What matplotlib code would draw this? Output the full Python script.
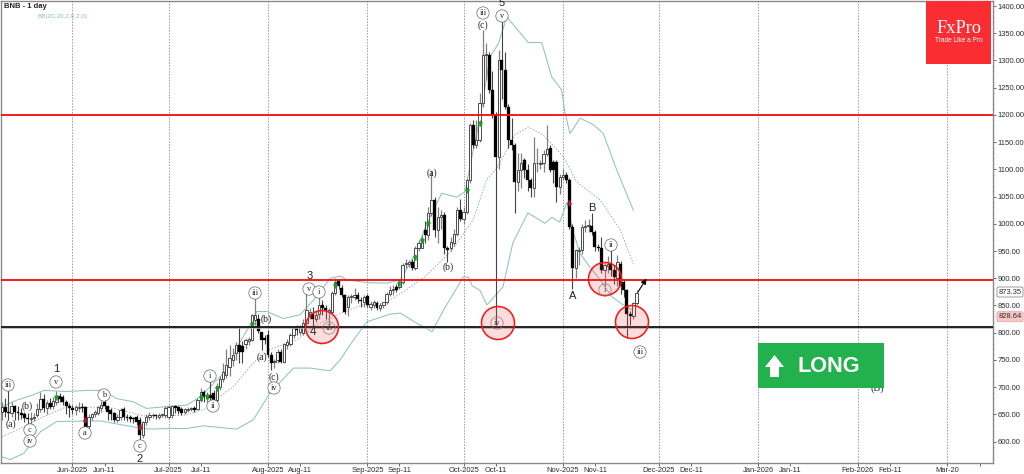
import matplotlib
matplotlib.use("Agg")
import matplotlib.pyplot as plt
from matplotlib.patches import Circle, Rectangle, Polygon
from matplotlib.path import Path

W, H = 1024, 474
first_day = -22  # days counted from 2025-06-01

opens = [655,664,655,652,665,655,652,650,644,641,644,648,660,678,662,670,666,672,684,682,672,665,
 662,658,662,664,664,628,646,650,652,662,672,666,658,652,640,645,660,645,645,643,645,640,612,636,
 646,648,648,646,648,648,646,648,665,664,660,654,658,660,662,
 660,676,692,680,686,690,676,700,715,722,737,750,762,777,775,779,785,
 787,823,826,802,790,796,759,746,750,765,747,778,780,796,808,802,799,817,832,835,826,835,851,845,
 838,838,873,895,883,869,848,866,866,870,860,856,868,848,850,854,845,850,857,872,878,884,884,894,
 926,926,930,918,955,955,988,979,1019,1044,988,1013,1017,955,955,965,982,1026,1008,1022,
 1080,1181,1145,1154,1221,1310,1310,1246,1200,1123,1301,1282,1215,1154,1145,1077,1099,1117,1099,1081,
 1065,1111,1110,1111,1129,1139,1114,1114,1068,1086,1090,
 1080,995,919,950,952,995,996,996,985,957,955,915,922,926,915,900,927,894,878,834,830,854]
highs = [672,680,698,672,668,665,662,655,652,655,652,670,692,688,676,680,682,693,690,686,676,670,
 668,668,672,670,666,650,652,658,666,675,680,668,662,655,650,662,664,650,648,646,648,645,638,650,
 655,652,651,652,653,665,668,668,667,666,664,662,663,664,665,
 680,698,695,692,722,694,708,720,745,770,778,772,783,811,785,790,792,
 835,866,835,802,795,805,765,752,770,770,782,788,800,812,815,815,825,878,846,848,840,866,860,850,
 845,876,900,898,888,872,870,872,882,875,866,870,872,858,860,858,855,855,875,885,888,890,899,928,
 935,933,935,960,970,980,1005,1030,1099,1050,1030,1025,1022,960,975,990,1030,1045,1030,1085,
 1185,1190,1190,1240,1356,1332,1315,1280,1205,1320,1383,1315,1220,1195,1148,1130,1130,1120,1110,1085,
 1160,1140,1118,1135,1181,1145,1118,1118,1092,1100,1095,
 1085,1000,953,958,1000,1007,1008,1020,988,962,975,928,940,952,925,942,932,898,880,840,856,878]
lows = [640,645,640,645,640,640,642,636,630,632,638,645,655,655,650,660,660,668,672,668,650,645,
 650,648,655,655,622,622,640,645,648,655,660,640,640,636,636,640,640,638,636,635,630,600,606,630,
 640,644,642,642,645,644,642,644,652,650,648,650,654,656,654,
 658,672,672,672,672,660,672,695,710,716,720,738,750,745,744,770,778,
 785,815,800,768,780,755,731,735,745,745,745,770,775,790,795,795,795,812,825,808,820,825,832,825,
 812,835,870,880,865,835,830,855,860,855,848,848,848,842,845,842,840,845,853,868,870,875,880,890,
 918,920,915,915,950,955,965,970,1015,975,965,990,945,930,950,960,978,1005,1000,1018,
 1075,1140,1140,1150,1215,1265,1240,1195,815,1100,1230,1210,1140,1135,1019,1060,1065,1085,1060,1050,
 1050,1095,1100,1095,1125,1095,1075,1040,1055,1080,1075,
 990,880,900,925,945,985,985,980,950,950,910,885,910,905,890,885,872,865,790,814,826,850]
closes = [664,655,652,665,655,652,648,644,641,644,646,660,678,662,670,664,674,682,678,672,665,662,
 658,664,664,662,626,646,650,654,664,668,666,654,650,640,645,658,645,644,641,641,636,612,636,645,
 648,648,647,649,650,662,664,665,662,656,652,660,660,661,658,
 676,692,682,686,680,676,703,715,728,740,753,759,777,765,764,787,788,
 832,832,804,787,787,759,744,748,765,747,780,783,796,808,805,808,817,842,838,826,832,851,845,839,
 842,873,893,885,869,838,866,868,869,862,858,866,851,852,856,845,850,856,872,878,881,878,894,924,
 928,929,918,955,964,972,979,1019,1044,988,1013,1016,955,952,967,982,1026,1008,1022,1080,
 1181,1145,1154,1221,1310,1312,1246,1200,1123,1301,1282,1215,1154,1145,1077,1099,1111,1099,1081,1065,
 1111,1112,1112,1129,1138,1099,1099,1068,1086,1090,1080,
 995,919,952,952,995,996,998,985,957,955,915,924,926,915,903,930,885,878,834,830,854,873.35]
days = list(range(first_day, first_day + len(closes)))

upper_days = [-22,-17.4,-12.2,-9,-1.8,4.4,9.6,13.8,19,23,29,35.6,39.8,44,48,52,55.4,57.5,60.6,65.8,71,75.2,80.4,83.5,85.6,91.9,98,102.3,106.5,110.6,112.6,115.2,119.9,122.5,124,127.2,130.3,132.9,135.5,142.2,146.4,149.5,152.6,153.7,155.2,158.4,162.5,165.6,169.8,175]
upper_vals = [664,676,686,694,692,694,694,679,673,661,664,667,682,707,731,780,814,839,839,826,833,860,900,904,897,892,891,897,940,1001,1025,1056,1049,1059,1105,1197,1307,1331,1380,1333,1333,1270,1246,1203,1166,1194,1182,1166,1099,1025]
mid_days = [-22,-16.4,-9,-1.8,4.4,10.7,16.9,23.2,29.4,35.6,41.9,46,50.2,56.5,61.7,70,76,85,91.9,97,104,110,118,125,129.2,132.4,138,142.2,146.9,153.2,157.3,164.6,170.9,175]
mid_vals = [609,624,646,664,663,664,655,646,647,649,661,683,701,745,770,787,814,839,854,853,878,903,949,1007,1081,1102,1163,1178,1163,1123,1077,1044,989,926]
lower_days = [-22,-19.5,-15.3,-10,-4.9,8.6,19,24.2,29.4,35.6,40.8,51.2,56.4,61.6,68.9,74.1,80.4,83.5,87.7,91.9,99,102.3,107.5,112.2,115.8,122,123.6,124.7,127.1,129.3,134.3,137.4,142.1,147.4,149.6,152,154.3,155.8,158.3,161.4,164.6,168.3,171.8,175.8]
lower_vals = [572,567,578,618,637,638,627,623,624,624,629,623,640,689,735,735,730,750,787,820,834,836,817,802,842,903,902,886,878,851,884,965,1020,1001,1012,1003,1040,994,946,921,897,866,851,838]

buy_days = [-5,40,42,45,56,82,102,107,109,111,123,127]
buy_vals = [681,681,684,699,816,888,891,939,970,1001,1062,1185]
sell_days = [4,21,155]
sell_vals = [640,627,1038]

red_levels = [1200, 897]
black_levels = [811]

month_days = [0,30,61,92,122,153,183,214,245,273]
month_labels = ["Jun-2025","Jul-2025","Aug-2025","Sep-2025","Oct-2025","Nov-2025","Dec-2025","Jan-2026","Feb-2026","Mar-20"]
mid_month_days = [10,40,71,102,132,163,193,224,255,283]
mid_month_labels = ["Jun-11","Jul-11","Aug-11","Sep-11","Oct-11","Nov-11","Dec-11","Jan-11","Feb-11",""]

price_ticks = list(range(600, 1401, 50))
minor_ticks = list(range(570, 1410, 10))

plain_labels = [("1",56,369),("2",140,459),("3",310,276),("5",502,3),("B",592,208),("A",573,296)]
paren_labels = [("(a)",11,424),("(b)",27,406),("(b)",266,319),("(a)",262,357),("(c)",274,377),("(b)",448,267),("(a)",432,173),("(c)",483,25)]
ring_labels = [("iii",8,385),("v",56,382),("c",30,430),("iv",30,441),("a",85,433),("b",104,395),("c",140,446),
               ("i",210,376),("ii",213,406),("iii",255,293),("iv",274,388),("v",309,289),("i",319,292),
               ("iii",483,13),("v",502,16),("ii",611,245),("iii",640,352)]
faint_rings = [("iii",329,328),("iv",497,323),("i",605,290)]
zones = [(322,327),(498,323),(605,279),(632,322)]

fig = plt.figure(figsize=(W/100, H/100), dpi=100, facecolor="white")
ax = fig.add_axes([1/W, (H-463)/H, 992/W, 462/H])
ax.set_xlim((1-72.5)/3.205, (993-72.5)/3.205)
ax.set_ylim(560.7, 1409.2)
ax.yaxis.tick_right()
ax.set_yticks(price_ticks)
ax.set_yticklabels([f"{p}.00" for p in price_ticks])
ax.set_yticks(minor_ticks, minor=True)
ax.set_xticks(month_days)
ax.set_xticklabels(month_labels)
ax.set_xticks(mid_month_days, minor=True)
ax.set_xticklabels(mid_month_labels, minor=True)
for which in ("major", "minor"):
    ax.tick_params(axis="x", which=which, labelsize=5.4, length=2, width=0.5, pad=1, colors="#2a2a2a",
                   labelfontfamily="Liberation Sans")
ax.tick_params(axis="y", which="major", labelsize=5.4, length=2.5, width=0.5, pad=0.6, colors="#2a2a2a",
               labelfontfamily="Liberation Sans")
ax.tick_params(axis="y", which="minor", length=1, width=0.4, colors="#777777")
ax.grid(True, axis="x", which="major", color="#777777", linestyle=(0, (2.2, 2)), linewidth=0.5)
ax.set_axisbelow(True)
for side, spine in ax.spines.items():
    spine.set_color("#8a8a8a")
    spine.set_linewidth(1.0)

# bands
ax.plot(upper_days, upper_vals, color="#8fc3c3", lw=0.75, zorder=2)
ax.plot(lower_days, lower_vals, color="#8fc3c3", lw=0.75, zorder=2)
ax.plot(mid_days, mid_vals, color="#8a9a9a", lw=0.55, linestyle=(0, (2, 2)), zorder=2)

# levels
for lvl in red_levels:
    ax.axhline(lvl, color="#f01414", lw=1.35, zorder=5)
for lvl in black_levels:
    ax.axhline(lvl, color="#b5b5b5", lw=1.9, zorder=4.9)
    ax.axhline(lvl, color="black", lw=1.15, zorder=5)

# candles
up = [c >= o for o, c in zip(opens, closes)]
ax.vlines([d for d, u in zip(days, up) if u],
          [l for l, u in zip(lows, up) if u], [h for h, u in zip(highs, up) if u],
          color="#808080", lw=0.9, zorder=3)
ax.vlines([d for d, u in zip(days, up) if not u],
          [l for l, u in zip(lows, up) if not u], [h for h, u in zip(highs, up) if not u],
          color="#444444", lw=0.8, zorder=3)
ax.bar([d for d, u in zip(days, up) if u],
       [max(c - o, 1.5) for c, o, u in zip(closes, opens, up) if u],
       bottom=[o for o, u in zip(opens, up) if u], width=0.72,
       facecolor="white", edgecolor="#404040", linewidth=0.65, zorder=3.2)
ax.bar([d for d, u in zip(days, up) if not u],
       [max(o - c, 2) for c, o, u in zip(closes, opens, up) if not u],
       bottom=[c for c, u in zip(closes, up) if not u], width=0.92,
       facecolor="black", edgecolor="black", linewidth=0.2, zorder=3.2)

# signal arrows
up_arrow = Path([(0,1),(1,0),(0.4,0),(0.4,-1),(-0.4,-1),(-0.4,0),(-1,0),(0,1)], closed=True)
down_arrow = Path([(0,-1),(1,0),(0.4,0),(0.4,1),(-0.4,1),(-0.4,0),(-1,0),(0,-1)], closed=True)
ax.scatter(buy_days, buy_vals, marker=up_arrow, s=20, color="#1f9a2c", linewidths=0, zorder=4)
ax.scatter(sell_days, sell_vals, marker=down_arrow, s=20, color="#a81e2a", linewidths=0, zorder=4)

# overlay in picture pixels for annotations
ov = fig.add_axes([0, 0, 1, 1], facecolor="none")
ov.set_xlim(0, W)
ov.set_ylim(H, 0)
ov.axis("off")

ov.text(877, 388, "(B)", ha="center", va="center", fontsize=7.5, family="Liberation Serif", color="#222222", zorder=1)

for cx, cy in zones:
    ov.add_patch(Circle((cx, cy), 16.5, facecolor="#f04040", alpha=0.18, edgecolor="none", zorder=2))
    ov.add_patch(Circle((cx, cy), 16.5, facecolor="none", edgecolor="#f01c1c", lw=1.15, zorder=2))

for s, x, y in plain_labels:
    ov.text(x, y, s, ha="center", va="center", fontsize=8, family="Liberation Sans", color="#222222", zorder=3)
ov.text(313, 332, "4", ha="center", va="center", fontsize=8.5, family="Liberation Sans", color="#333333", zorder=3)
for s, x, y in paren_labels:
    ov.text(x, y, s, ha="center", va="center", fontsize=7, family="Liberation Serif", color="#222222", zorder=3)
for s, x, y in ring_labels:
    ov.text(x, y, s, ha="center", va="center", fontsize=6, family="Liberation Serif", color="#222222", zorder=3,
            bbox=dict(boxstyle="circle,pad=0.26", fc="white", ec="#555555", lw=0.45))
for s, x, y in faint_rings:
    ov.text(x, y, s, ha="center", va="center", fontsize=6, family="Liberation Serif", color="#444444", zorder=3,
            bbox=dict(boxstyle="circle,pad=0.26", fc="none", ec="#777777", lw=0.45))

ov.annotate("", xy=(646.5, 278.5), xytext=(638, 292), zorder=4,
            arrowprops=dict(arrowstyle="-|>", color="black", lw=0.8, mutation_scale=8, shrinkA=0, shrinkB=0))

# header text
ov.text(4, 6.5, "BNB - 1 day", ha="left", va="center", fontsize=5.5, fontweight="bold",
        family="Liberation Sans", color="#222222", zorder=3)
ov.text(37, 16, "BB(20,20,2.0,2.0)", ha="left", va="center", fontsize=4.6,
        family="Liberation Sans", color="#8fbcbc", zorder=3)

# FxPro block
ov.add_patch(Rectangle((926, 1), 65, 63, facecolor="#fa2d33", edgecolor="none", zorder=4))
ov.text(958.5, 28.5, "FxPro", ha="center", va="center", fontsize=13.2, family="Liberation Serif", color="white", zorder=5)
ov.text(958.5, 40.5, "Trade Like a Pro", ha="center", va="center", fontsize=4.7, family="Liberation Sans", color="white", zorder=5)

# LONG block
ov.add_patch(Rectangle((758, 343), 126, 45, facecolor="#23b14d", edgecolor="none", zorder=4))
ov.add_patch(Polygon([(774.5,355),(784,367),(779,367),(779,377),(770,377),(770,367),(765,367)],
                     closed=True, facecolor="white", edgecolor="none", zorder=5))
ov.text(829, 366.5, "LONG", ha="center", va="center", fontsize=15.6, fontweight="bold",
        family="Liberation Sans", color="white", zorder=5)

# price flags
ov.text(1010, 292, "873.35", ha="center", va="center", fontsize=5.4, family="Liberation Sans", color="#2a2a2a", zorder=6,
        bbox=dict(boxstyle="round,pad=0.2", fc="white", ec="#777777", lw=0.5))
ov.text(1010, 316.7, "828.64", ha="center", va="center", fontsize=5.4, family="Liberation Sans", color="#2a2a2a", zorder=6,
        bbox=dict(boxstyle="round,pad=0.2", fc="#f9c6c6", ec="#e6a0a0", lw=0.5))

fig.savefig("out.png", dpi=100)
